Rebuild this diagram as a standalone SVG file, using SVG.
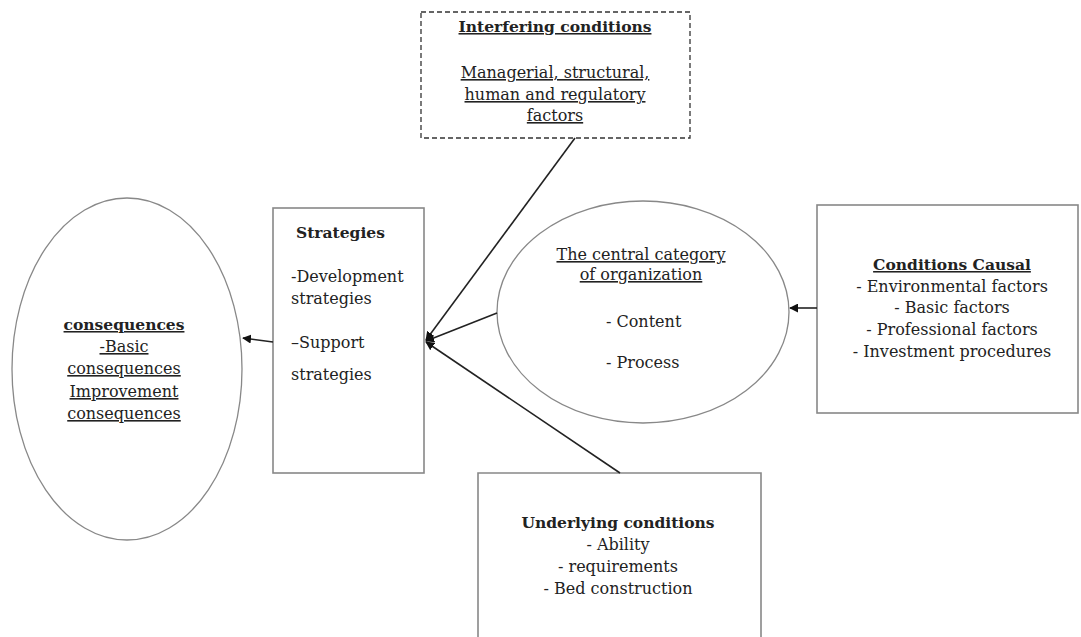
<svg xmlns="http://www.w3.org/2000/svg" width="1081" height="637" viewBox="0 0 1081 637">
<style>
text{font-family:"DejaVu Serif","Liberation Serif",serif;font-size:16px;fill:#222}
.c{text-anchor:middle}
.b{font-weight:bold;font-size:15.5px}
.u{text-decoration:underline}
.box{fill:#fff;stroke:#888;stroke-width:1.6}
.ell{fill:#fff;stroke:#888;stroke-width:1.3}
.con{stroke:#222;stroke-width:1.6;fill:none;marker-end:url(#ah)}
</style>
<defs>
<marker id="ah" viewBox="0 0 10 10" refX="9" refY="5" markerWidth="9" markerHeight="9" markerUnits="userSpaceOnUse" orient="auto">
<path d="M0,0 L10,5 L0,10 z" fill="#111"/>
</marker>
</defs>
<rect width="1081" height="637" fill="#fff"/>
<g id="interfering">
<rect x="421" y="12" width="269" height="126" fill="#fff" stroke="#333" stroke-width="1.3" stroke-dasharray="5,3"/>
<text class="c b u" x="555" y="32">Interfering conditions</text>
<text class="c u" x="555" y="78">Managerial, structural,</text>
<text class="c u" x="555" y="100">human and regulatory</text>
<text class="c u" x="555" y="121">factors</text>
</g>
<g id="consequences">
<ellipse class="ell" cx="127" cy="369" rx="115" ry="171"/>
<text class="c b u" x="124" y="330">consequences</text>
<text class="c u" x="124" y="352">-Basic </text>
<text class="c u" x="124" y="374">consequences</text>
<text class="c u" x="124" y="397">Improvement</text>
<text class="c u" x="124" y="419">consequences</text>
</g>
<g id="strategies">
<rect class="box" x="273" y="208" width="151" height="265"/>
<text class="b" x="296" y="238">Strategies</text>
<text x="291" y="282">-Development</text>
<text x="291" y="304">strategies</text>
<text x="291" y="348">–Support</text>
<text x="291" y="380">strategies</text>
</g>
<g id="central">
<ellipse class="ell" cx="643" cy="312" rx="146" ry="111"/>
<text class="c u" x="641" y="260">The central category</text>
<text class="c u" x="641" y="280">of organization</text>
<text x="606" y="327">- Content</text>
<text x="606" y="368">- Process</text>
</g>
<g id="causal">
<rect class="box" x="817" y="205" width="261" height="208"/>
<text class="c b u" x="952" y="270">Conditions Causal</text>
<text class="c" x="952" y="292">- Environmental factors</text>
<text class="c" x="952" y="313">- Basic factors</text>
<text class="c" x="952" y="335">- Professional factors</text>
<text class="c" x="952" y="357">- Investment procedures</text>
</g>
<g id="underlying">
<path class="box" d="M478,640 L478,473 L761,473 L761,640"/>
<text class="c b" x="618" y="528">Underlying conditions</text>
<text class="c" x="618" y="550">- Ability</text>
<text class="c" x="618" y="572">- requirements</text>
<text class="c" x="618" y="594">- Bed construction</text>
</g>
<g id="connectors">
<line class="con" x1="273" y1="342" x2="243" y2="338"/>
<line class="con" x1="817" y1="308" x2="790" y2="308"/>
<line class="con" x1="575" y1="138" x2="426" y2="340"/>
<line class="con" x1="497" y1="313" x2="426" y2="341"/>
<line class="con" x1="620" y1="473" x2="426" y2="342"/>
</g>
</svg>
